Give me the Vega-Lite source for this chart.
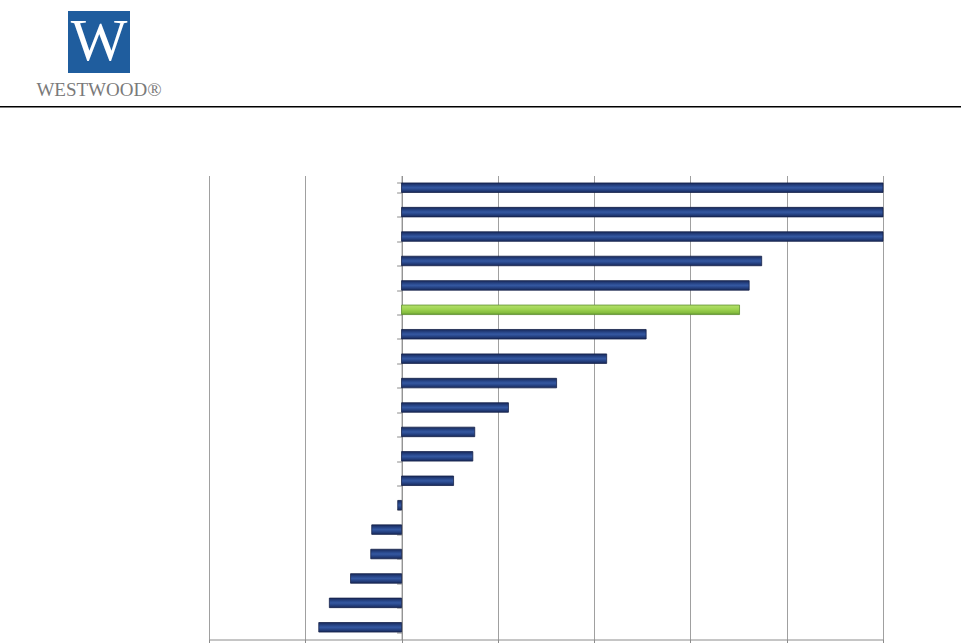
{
  "$schema": "https://vega.github.io/schema/vega-lite/v6.json",
  "padding": {"left": 0, "top": 11, "right": 0, "bottom": 0},
  "background": "white",
  "spacing": 67.5,
  "config": {"view": {"stroke": null}},
  "datasets": {
    "bars": [
      {"rank": 1, "value": 50, "hl": false},
      {"rank": 2, "value": 50, "hl": false},
      {"rank": 3, "value": 50, "hl": false},
      {"rank": 4, "value": 37.4, "hl": false},
      {"rank": 5, "value": 36.1, "hl": false},
      {"rank": 6, "value": 35.1, "hl": true},
      {"rank": 7, "value": 25.4, "hl": false},
      {"rank": 8, "value": 21.3, "hl": false},
      {"rank": 9, "value": 16.1, "hl": false},
      {"rank": 10, "value": 11.1, "hl": false},
      {"rank": 11, "value": 7.6, "hl": false},
      {"rank": 12, "value": 7.4, "hl": false},
      {"rank": 13, "value": 5.4, "hl": false},
      {"rank": 14, "value": -0.4, "hl": false},
      {"rank": 15, "value": -3.1, "hl": false},
      {"rank": 16, "value": -3.2, "hl": false},
      {"rank": 17, "value": -5.3, "hl": false},
      {"rank": 18, "value": -7.5, "hl": false},
      {"rank": 19, "value": -8.6, "hl": false}
    ]
  },
  "vconcat": [
    {
      "spacing": 6,
      "vconcat": [
        {
          "bounds": "flush",
          "spacing": 0,
          "hconcat": [
            {"width": 68, "height": 62, "data": {"values": []}, "mark": "point"},
            {
              "width": 62,
              "height": 62,
              "view": {"fill": "#1f5d9e", "stroke": null},
              "title": {"text": "WESTWOOD®", "orient": "bottom", "anchor": "middle", "frame": "group", "offset": 8, "font": "Liberation Serif", "fontSize": 19, "fontWeight": "normal", "color": "#7a7a7a"},
              "data": {"values": [{"t": "W"}]},
              "mark": {"type": "text", "font": "Liberation Serif", "fontSize": 60, "color": "white", "align": "center", "baseline": "middle"},
              "encoding": {"text": {"field": "t"}}
            }
          ]
        },
        {
          "width": 961,
          "height": 1.5,
          "view": {"fill": "#000000", "stroke": null},
          "data": {"values": []},
          "mark": "point"
        }
      ]
    },
    {
      "bounds": "flush",
      "spacing": 0,
      "hconcat": [
        {"width": 209, "height": 464, "data": {"values": []}, "mark": "point"},
        {
          "width": 674,
          "height": 464,
          "data": {"name": "bars"},
          "encoding": {
            "y": {
              "field": "rank",
              "type": "ordinal",
              "sort": "ascending",
              "scale": {"paddingInner": 0.61, "paddingOuter": 0.305},
              "axis": {"title": null, "labels": false, "ticks": true, "tickBand": "extent", "tickSize": 5, "tickColor": "#8c8c8c", "domain": true, "domainColor": "#8c8c8c", "offset": -192.6, "grid": false}
            },
            "x": {
              "field": "value",
              "type": "quantitative",
              "scale": {"domain": [-20, 50], "nice": false},
              "axis": {"title": null, "labels": false, "values": [-20, -10, 0, 10, 20, 30, 40, 50], "grid": true, "gridColor": "#a0a0a0", "gridWidth": 1, "tickSize": 4, "tickColor": "#8c8c8c", "domainColor": "#8c8c8c"}
            }
          },
          "layer": [
            {
              "transform": [{"filter": {"field": "hl", "equal": false}}],
              "mark": {
                "type": "bar",
                "stroke": "#15224a",
                "strokeWidth": 0.8,
                "color": {"gradient": "linear", "x1": 0, "y1": 0, "x2": 0, "y2": 1, "stops": [
                  {"offset": 0, "color": "#18295a"},
                  {"offset": 0.35, "color": "#2b4b90"},
                  {"offset": 0.5, "color": "#3558a0"},
                  {"offset": 0.65, "color": "#2b4b90"},
                  {"offset": 1, "color": "#18295a"}
                ]}
              }
            },
            {
              "transform": [{"filter": {"field": "hl", "equal": true}}],
              "mark": {
                "type": "bar",
                "stroke": "#5e8f2f",
                "strokeWidth": 0.8,
                "color": {"gradient": "linear", "x1": 0, "y1": 0, "x2": 0, "y2": 1, "stops": [
                  {"offset": 0, "color": "#b4e06c"},
                  {"offset": 0.45, "color": "#9dd350"},
                  {"offset": 0.8, "color": "#86bd3f"},
                  {"offset": 1, "color": "#5f9530"}
                ]}
              }
            }
          ]
        }
      ]
    }
  ]
}
